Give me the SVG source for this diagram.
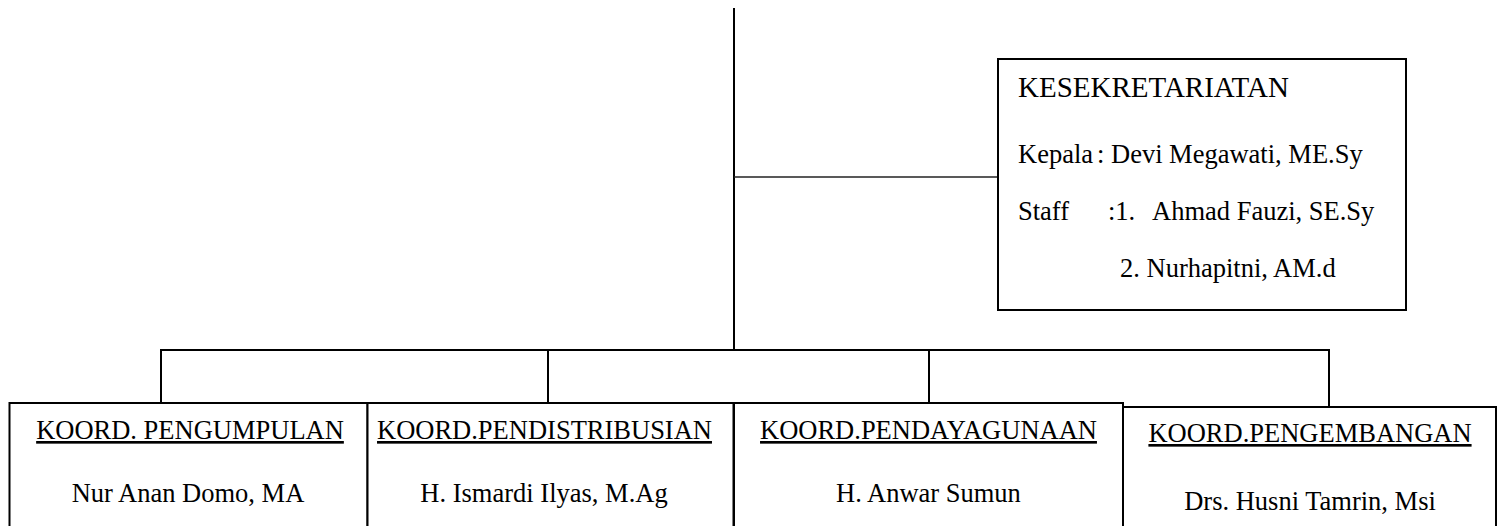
<svg xmlns="http://www.w3.org/2000/svg" width="1502" height="526" viewBox="0 0 1502 526">
<style>
.ln{stroke:#000;stroke-width:2;fill:none}
.thin{stroke:#222;stroke-width:1.6;fill:none}
.box{stroke:#000;stroke-width:2;fill:#fff}
text{font-family:"Liberation Serif","Times New Roman",serif;fill:#000;font-size:26.5px}
.ttl{text-anchor:middle;text-decoration:underline}
.nm{text-anchor:middle}
.hd{font-size:29px}
</style>
<rect width="1502" height="526" fill="#fff"/>
<g id="connectors">
<line class="ln" x1="734" y1="8" x2="734" y2="350"/>
<line class="thin" x1="734" y1="177" x2="998" y2="177"/>
<line class="ln" x1="160" y1="350" x2="1330" y2="350"/>
<line class="ln" x1="161" y1="350" x2="161" y2="403"/>
<line class="ln" x1="548" y1="350" x2="548" y2="403"/>
<line class="ln" x1="929" y1="350" x2="929" y2="403"/>
<line class="ln" x1="1329" y1="350" x2="1329" y2="407"/>
</g>
<g id="kesekretariatan">
<rect class="box" x="998" y="59" width="408" height="251"/>
<text class="hd" x="1018" y="97">KESEKRETARIATAN</text>
<text x="1018" y="163">Kepala</text>
<text x="1097" y="163">: Devi Megawati, ME.Sy</text>
<text x="1018" y="220">Staff</text>
<text x="1108" y="220">:1.</text>
<text x="1152" y="220">Ahmad Fauzi, SE.Sy</text>
<text x="1120" y="277">2. Nurhapitni, AM.d</text>
</g>
<g id="koord-pengumpulan">
<rect class="box" x="9.5" y="403" width="358" height="130"/>
<text class="ttl" x="190" y="439">KOORD. PENGUMPULAN</text>
<text class="nm" x="188" y="502">Nur Anan Domo, MA</text>
</g>
<g id="koord-pendistribusian">
<rect class="box" x="367.5" y="403" width="366" height="130"/>
<text class="ttl" x="544.5" y="439">KOORD.PENDISTRIBUSIAN</text>
<text class="nm" x="544" y="502">H. Ismardi Ilyas, M.Ag</text>
</g>
<g id="koord-pendayagunaan">
<rect class="box" x="734" y="403" width="389" height="130"/>
<text class="ttl" x="928.5" y="439">KOORD.PENDAYAGUNAAN</text>
<text class="nm" x="928.5" y="502">H. Anwar Sumun</text>
</g>
<g id="koord-pengembangan">
<rect class="box" x="1123" y="407" width="373" height="130"/>
<text class="ttl" x="1310" y="442">KOORD.PENGEMBANGAN</text>
<text class="nm" x="1310" y="510">Drs. Husni Tamrin, Msi</text>
</g>
</svg>
